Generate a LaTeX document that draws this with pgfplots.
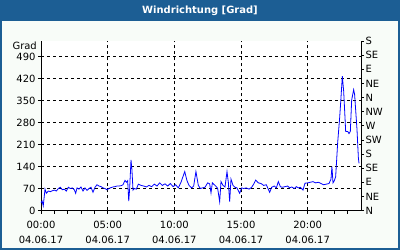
\documentclass[border=0pt]{standalone}
\usepackage{pgfplots}
\pgfplotsset{compat=1.18}
\usepackage{fontspec}
\setmainfont{DejaVu Sans}
\definecolor{frameblue}{RGB}{28,94,148}
\definecolor{bgwhite}{RGB}{248,252,248}
\begin{document}
\begin{tikzpicture}[x=1bp,y=1bp]
\fill[frameblue] (0,0) rectangle (400,250);
\fill[bgwhite] (2,2) rectangle (398,229);
\node[text=white,font=\bfseries\fontsize{10}{12}\selectfont] at (200,239.5) {Windrichtung [Grad]};
\begin{axis}[
  at={(41bp,39.5bp)}, anchor=south west,
  scale only axis, width=320bp, height=169.5bp,
  xmin=0, xmax=24, ymin=0, ymax=540,
  axis background/.style={fill=white},
  axis line style={black, line width=0.8pt},
  axis y line*=left, axis x line*=bottom,
  xtick={0,5,10,15,20},
  xticklabels={{00:00\\04.06.17},{05:00\\04.06.17},{10:00\\04.06.17},{15:00\\04.06.17},{20:00\\04.06.17}},
  xticklabel style={align=center, font=\fontsize{10}{15}\selectfont, yshift=-4bp},
  minor xtick={1,2,3,4,6,7,8,9,11,12,13,14,16,17,18,19,21,22,23},
  ytick={0,70,140,210,280,350,420,490},
  yticklabel style={font=\fontsize{10}{12}\selectfont, xshift=1bp},
  /pgf/number format/assume math mode=true,
  tick align=outside, major tick length=3bp, minor tick length=3bp,
  tick style={black, line width=0.6pt},
  grid=major,
  major grid style={black, dashed, dash pattern=on 3bp off 3bp, line width=0.6pt},
  clip=false,
]
\addplot[blue, line width=0.8pt] coordinates {
(0.00,25) (0.08,30) (0.17,15) (0.30,68) (0.40,55) (0.55,62) (0.70,60) (0.85,63)
(1.00,65) (1.15,62) (1.30,70) (1.45,74) (1.60,66) (1.75,68) (1.90,62) (2.05,74)
(2.20,70) (2.35,72) (2.50,66) (2.60,55) (2.70,72) (2.85,68) (3.00,75) (3.15,62)
(3.30,72) (3.45,64) (3.60,70) (3.75,74) (3.90,58) (4.05,74) (4.20,82) (4.35,78)
(4.50,76) (4.65,72) (4.80,70) (4.95,66) (5.10,70) (5.25,73) (5.40,75) (5.55,76)
(5.70,78) (5.85,78) (6.00,79) (6.15,82) (6.30,96) (6.40,90) (6.50,95) (6.58,30)
(6.65,70) (6.75,161) (6.82,130) (6.90,65) (7.00,70) (7.15,68) (7.30,84) (7.50,80)
(7.70,78) (7.90,75) (8.10,80) (8.30,76) (8.50,84) (8.70,78) (8.90,88) (9.10,80)
(9.30,85) (9.50,78) (9.70,86) (9.90,76) (10.10,82) (10.30,72) (10.50,90) (10.78,124)
(10.95,95) (11.10,80) (11.30,72) (11.45,78) (11.62,124) (11.80,80) (11.95,70) (12.10,72)
(12.30,74) (12.50,88) (12.65,85) (12.75,56) (12.85,88) (13.00,82) (13.15,76) (13.25,70)
(13.40,28) (13.50,92) (13.65,80) (13.80,75) (13.95,124) (14.05,90) (14.15,28) (14.25,100)
(14.40,80) (14.55,74) (14.70,72) (14.90,55) (15.05,72) (15.20,70) (15.40,72) (15.60,68)
(15.80,74) (15.95,84) (16.10,97) (16.30,88) (16.50,86) (16.70,80) (16.90,82) (17.15,58)
(17.30,74) (17.50,78) (17.65,72) (17.80,92) (17.95,76) (18.10,74) (18.30,76) (18.50,78)
(18.65,72) (18.80,75) (19.00,70) (19.15,76) (19.30,72) (19.45,74) (19.65,65) (19.80,87)
(20.00,88) (20.20,90) (20.40,92) (20.60,88) (20.80,90) (21.00,86) (21.20,82) (21.40,84)
(21.60,86) (21.75,100) (21.82,140) (21.90,88) (22.00,95) (22.10,108) (22.25,216) (22.40,296)
(22.50,360) (22.60,428) (22.70,380) (22.80,296) (22.85,252) (23.00,252) (23.10,245) (23.20,252)
(23.30,352) (23.45,385) (23.52,370) (23.60,320) (23.70,258) (23.80,170) (23.85,150)
};
\node[anchor=east, font=\fontsize{10}{12}\selectfont, inner sep=0pt] at (axis cs:0,526) [xshift=-4bp] {Grad};
\end{axis}
\begin{axis}[
  at={(41bp,39.5bp)}, anchor=south west,
  scale only axis, width=320bp, height=169.5bp,
  xmin=0, xmax=24, ymin=0, ymax=540,
  axis y line*=right, axis x line=none,
  axis line style={black, line width=0.8pt},
  ytick={0,45,90,135,180,225,270,315,360,405,450,495,540},
  yticklabels={N,NE,E,SE,S,SW,W,NW,N,NE,E,SE,S},
  yticklabel style={font=\fontsize{10}{12}\selectfont, xshift=-2bp},
  tick align=outside, major tick length=3bp,
  tick style={black, line width=0.6pt},
]
\addplot[draw=none] coordinates {(0,0)};
\end{axis}
\end{tikzpicture}
\end{document}
